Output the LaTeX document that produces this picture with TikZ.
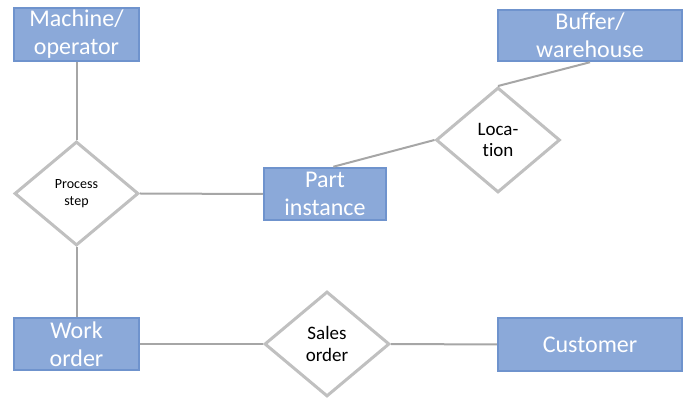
\documentclass[tikz,border=0pt]{standalone}
\usepackage{fontspec}
\setmainfont[Ligatures=NoCommon]{Carlito}
\usetikzlibrary{shapes.geometric}
\definecolor{boxfill}{HTML}{8BA9D9}
\definecolor{boxedge}{HTML}{6F93CD}
\definecolor{diaedge}{HTML}{C0C0C0}
\definecolor{linkcol}{HTML}{A6A6A6}
\tikzset{
  entity/.style={rectangle, draw=boxedge, fill=boxfill, line width=2.5pt,
    text=white, align=center, inner sep=0pt,
    font=\fontsize{24}{28}\selectfont},
  relation/.style={diamond, draw=diaedge, fill=white, line width=3pt,
    align=center, inner sep=0pt, text=black,
    font=\fontsize{19}{21.5}\selectfont},
  smallrel/.style={relation, font=\fontsize{14}{17}\selectfont},
  link/.style={draw=linkcol, line width=2pt}
}
\begin{document}
\begin{tikzpicture}[x=1pt,y=-1pt]
  \useasboundingbox (0,0) rectangle (686,403);
  % entities
  \node[entity, minimum width=125pt, minimum height=53pt] (machine) at (76.5,34.5) {Machine/\\operator};
  \node[entity, minimum width=184pt, minimum height=51pt] (buffer) at (590,35.5) {Buffer/\\warehouse};
  \node[entity, minimum width=122pt, minimum height=52pt] (part) at (325,194) {Part\\instance};
  \node[entity, minimum width=125pt, minimum height=52pt] (work) at (76.5,344) {Work\\order};
  \node[entity, minimum width=184pt, minimum height=53pt] (customer) at (590,344.5) {Customer};
  % relationships
  \node[smallrel, minimum width=124pt, minimum height=104pt] (proc) at (76.5,193.5) {Process\\step};
  \node[relation, minimum width=124pt, minimum height=105pt] (loc) at (498,140) {Loca-\\tion};
  \node[relation, minimum width=125pt, minimum height=105pt] (sales) at (327,344) {Sales\\order};
  % connectors
  \path[link] (machine.south) -- (proc.north);
  \path[link] (proc.south) -- (work.north);
  \path[link] (proc.east) -- (part.west);
  \path[link] (part.73) -- (loc.west);
  \path[link] (loc.north) -- (buffer.south);
  \path[link] (work.east) -- (sales.west);
  \path[link] (sales.east) -- (customer.west);
\end{tikzpicture}
\end{document}
